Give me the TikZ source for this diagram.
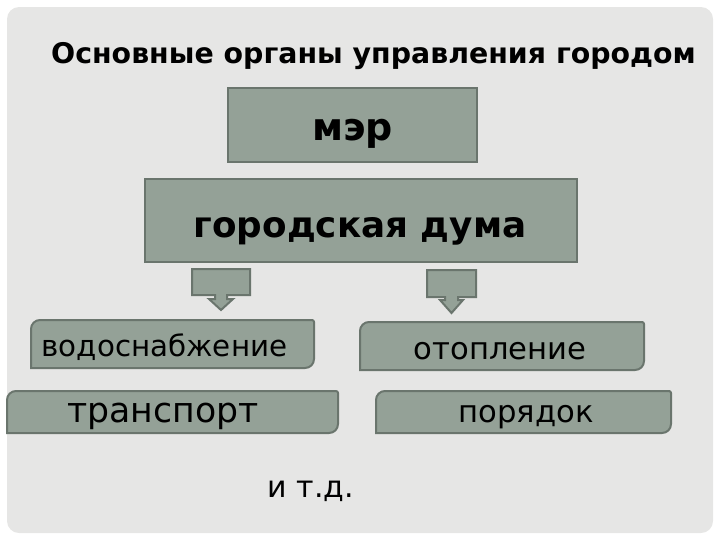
\documentclass[tikz,border=0pt]{standalone}
\usepackage{fontspec}
\setmainfont{DejaVu Sans}
\definecolor{pagebg}{RGB}{230,230,229}
\definecolor{boxfill}{RGB}{148,161,151}
\definecolor{boxline}{RGB}{106,117,109}

\begin{document}
\begin{tikzpicture}[x=0.75pt,y=0.75pt,yscale=-1,xscale=1]
\useasboundingbox (0,0) rectangle (720,540);

%Shape: Rounded Rectangle [id:page]
\draw [draw=none, fill=pagebg, rounded corners=9pt] (7,7) rectangle (713,533) ;

%Shape: Rectangle [id:mayorbox]
\draw [color=boxline, line width=1.5pt, fill=boxfill] (228,88) -- (477,88) -- (477,162) -- (228,162) -- cycle ;
%Shape: Rectangle [id:dumabox]
\draw [color=boxline, line width=1.5pt, fill=boxfill] (145,179) -- (577,179) -- (577,262) -- (145,262) -- cycle ;

%Shape: Down Arrow Callout [id:arrowleft]
\draw [color=boxline, line width=1.5pt, fill=boxfill] (192,269) -- (250,269) -- (250,295) -- (227,295) -- (227,299) -- (233,299) -- (221,310) -- (209,299) -- (215,299) -- (215,295) -- (192,295) -- cycle ;
%Shape: Down Arrow Callout [id:arrowright]
\draw [color=boxline, line width=1.5pt, fill=boxfill] (427,270) -- (476,270) -- (476,297) -- (458,297) -- (458,300) -- (463,300) -- (451.5,313) -- (440,300) -- (445,300) -- (445,297) -- (427,297) -- cycle ;

%Shape: Round Diagonal Corner Rectangle [id:waterbox]
\draw [color=boxline, line width=1.5pt, fill=boxfill] (31,368) -- (31,329) .. controls (31,324) and (35,320) .. (40,320) -- (312,320) .. controls (313,320) and (314,321) .. (314,322) -- (314,359) .. controls (314,364) and (310,368) .. (305,368) -- cycle ;
%Shape: Round Diagonal Corner Rectangle [id:heatbox]
\draw [color=boxline, line width=1.5pt, fill=boxfill] (360,370) -- (360,331) .. controls (360,326) and (364,322) .. (369,322) -- (642,322) .. controls (643,322) and (644,323) .. (644,324) -- (644,361) .. controls (644,366) and (640,370) .. (635,370) -- cycle ;
%Shape: Round Diagonal Corner Rectangle [id:transbox]
\draw [color=boxline, line width=1.5pt, fill=boxfill] (7,433) -- (7,400) .. controls (7,395) and (11,391) .. (16,391) -- (336,391) .. controls (337,391) and (338,392) .. (338,393) -- (338,424) .. controls (338,429) and (334,433) .. (329,433) -- cycle ;
%Shape: Round Diagonal Corner Rectangle [id:orderbox]
\draw [color=boxline, line width=1.5pt, fill=boxfill] (376,433) -- (376,400) .. controls (376,395) and (380,391) .. (385,391) -- (669,391) .. controls (670,391) and (671,392) .. (671,393) -- (671,424) .. controls (671,429) and (667,433) .. (662,433) -- cycle ;

% Text Node
\draw (373.5,63) node [anchor=base][inner sep=0.75pt] (title) {\fontsize{21.3}{26}\selectfont\bfseries Основные органы управления городом};
% Text Node
\draw (352.5,140) node [anchor=base][inner sep=0.75pt] (mayor) {\fontsize{28.5}{32}\selectfont\bfseries мэр};
% Text Node
\draw (360,237) node [anchor=base][inner sep=0.75pt] (duma) {\fontsize{26.8}{32}\selectfont\bfseries городская дума};
% Text Node
\draw (164.5,356) node [anchor=base][inner sep=0.75pt] (water) {\fontsize{22}{26}\selectfont водоснабжение};
% Text Node
\draw (500,359) node [anchor=base][inner sep=0.75pt] (heat) {\fontsize{23}{27}\selectfont отопление};
% Text Node
\draw (163,422) node [anchor=base][inner sep=0.75pt] (transport) {\fontsize{26}{30}\selectfont транспорт};
% Text Node
\draw (526,422) node [anchor=base][inner sep=0.75pt] (order) {\fontsize{23}{28}\selectfont порядок};
% Text Node
\draw (311,497) node [anchor=base][inner sep=0.75pt] (etc) {\fontsize{22.5}{26}\selectfont и т.д.};

\end{tikzpicture}
\end{document}
